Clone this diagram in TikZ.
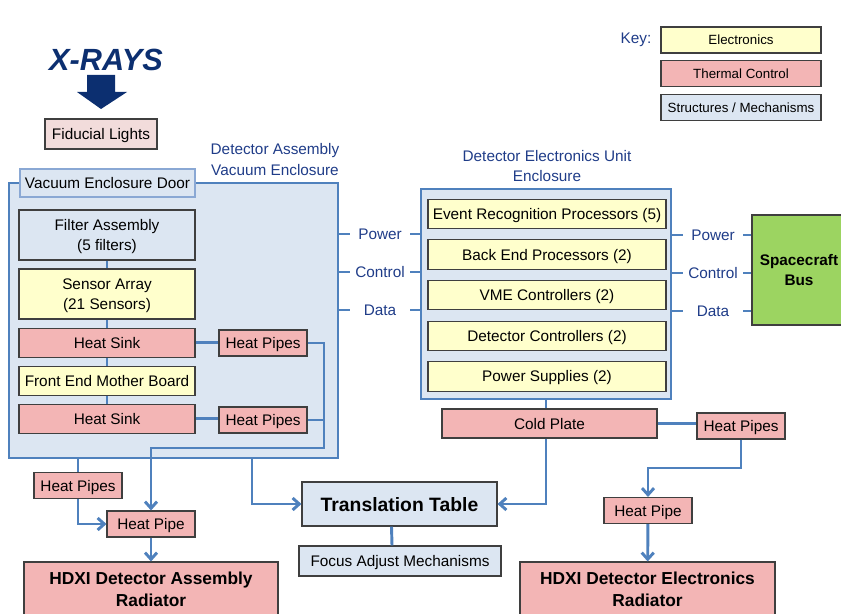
\documentclass[tikz,border=0pt]{standalone}
\usepackage{fontspec}
\setmainfont{Liberation Sans}
\usetikzlibrary{arrows.meta}

\definecolor{boxline}{HTML}{3F3F3F}
\definecolor{elecfill}{HTML}{FFFFCC}
\definecolor{thermfill}{HTML}{F3B5B5}
\definecolor{structfill}{HTML}{DCE6F2}
\definecolor{fidfill}{HTML}{F2DCDB}
\definecolor{pipeblue}{HTML}{4F81BD}
\definecolor{doorline}{HTML}{8AA8D4}
\definecolor{labelblue}{HTML}{1F3C88}
\definecolor{navy}{HTML}{0C2F70}
\definecolor{busgreen}{HTML}{9CD461}

\tikzstyle{electronics} = [rectangle, draw=boxline, line width=0.8pt, fill=elecfill, text centered, text depth=0pt, minimum height=22pt]
\tikzstyle{thermal} = [rectangle, draw=boxline, line width=0.8pt, fill=thermfill, text centered, text depth=0pt, minimum width=66pt, minimum height=19.5pt]
\tikzstyle{structure} = [rectangle, draw=boxline, line width=0.8pt, fill=structfill, text centered, text depth=0pt, minimum height=22.5pt]
\tikzstyle{enclosure} = [rectangle, draw=pipeblue, line width=2.2pt, fill=structfill]
\tikzstyle{busword} = [text=labelblue, text depth=0pt, minimum width=45pt]
\tikzstyle{pipe} = [draw=pipeblue, line width=2.2pt]
\tikzstyle{arrow} = [pipe, -{Straight Barb[length=5pt,width=9pt]}]

\begin{document}
\begin{tikzpicture}[x=0.75pt, y=-0.75pt, inner sep=0pt, font=\fontsize{11.5}{15.5}\selectfont]
\clip (0,0) rectangle (841,613);

\node[text=navy, font=\fontsize{23}{26}\selectfont\bfseries\itshape] (xrays) at (106,60) {X-RAYS};
\fill[navy] (87,75) -- (115,75) -- (115,92) -- (127,92) -- (101,109) -- (77,92) -- (87,92) -- cycle;
\node[rectangle, draw=boxline, line width=0.8pt, fill=fidfill, text depth=0pt, minimum width=84pt, minimum height=22.5pt] (fid) at (101,134) {Fiducial Lights};

% detector assembly
\node[enclosure, minimum width=246.75pt, minimum height=206.25pt] (dae) at (173.5,320.5) {};
\node[text=labelblue, align=center] (daetitle) at (275,159.5) {Detector Assembly\\Vacuum Enclosure};
\node[rectangle, draw=doorline, line width=0.8pt, fill=structfill, text depth=0pt, minimum width=131.25pt, minimum height=21pt] (door) at (107.5,183) {Vacuum Enclosure Door};

\node[structure, minimum width=132pt, minimum height=37.5pt, align=center] (filter) at (107,235) {Filter Assembly\\(5 filters)};
\node[electronics, minimum width=132pt, minimum height=37.5pt, align=center, node distance=44.25pt, below of=filter] (sensor) {Sensor Array\\(21 Sensors)};
\node[thermal, minimum width=132pt, minimum height=21.75pt, node distance=36.4pt, below of=sensor] (sinkA) {Heat Sink};
\node[electronics, minimum width=132pt, minimum height=21.75pt, node distance=28.5pt, below of=sinkA] (board) {Front End Mother Board};
\node[thermal, minimum width=132pt, minimum height=21.75pt, node distance=28.5pt, below of=board] (sinkB) {Heat Sink};

\node[thermal] (pipeA) at (263,343) {Heat Pipes};
\node[thermal] (pipeB) at (263,420) {Heat Pipes};
\node[thermal] (pipeC) at (78,485.5) {Heat Pipes};
\node[thermal] (pipeD) at (151,524) {Heat Pipe};
\node[thermal, minimum width=190.5pt, minimum height=40.5pt, align=center, font=\fontsize{13}{16.5}\selectfont\bfseries] (radA) at (151,589) {HDXI Detector Assembly\\Radiator};

\node[structure, minimum width=146.25pt, minimum height=33pt, font=\fontsize{14.5}{17}\selectfont\bfseries] (table) at (399.5,504) {Translation Table};
\node[structure, minimum width=151.5pt, minimum height=22.5pt] (focus) at (400,561) {Focus Adjust Mechanisms};

% electronics unit
\node[enclosure, minimum width=187.5pt, minimum height=157.5pt] (deu) at (546,294) {};
\node[text=labelblue, align=center] (deutitle) at (547,166) {Detector Electronics Unit\\Enclosure};
\node[electronics, minimum width=178.5pt] (erp) at (547,214) {Event Recognition Processors (5)};
\node[electronics, minimum width=178.5pt, node distance=30.45pt, below of=erp] (bep) {Back End Processors (2)};
\node[electronics, minimum width=178.5pt, node distance=30.45pt, below of=bep] (vme) {VME Controllers (2)};
\node[electronics, minimum width=178.5pt, node distance=30.45pt, below of=vme] (dcon) {Detector Controllers (2)};
\node[electronics, minimum width=178.5pt, node distance=30.45pt, below of=dcon] (psu) {Power Supplies (2)};

\node[thermal, minimum width=161.25pt, minimum height=21.75pt] (cold) at (549.5,423.5) {Cold Plate};
\node[thermal] (pipeE) at (741,426) {Heat Pipes};
\node[thermal] (pipeF) at (648,510.5) {Heat Pipe};
\node[thermal, minimum width=191.25pt, minimum height=40.5pt, align=center, font=\fontsize{13}{16.5}\selectfont\bfseries] (radB) at (647.5,589) {HDXI Detector Electronics\\Radiator};

\node[rectangle, draw=boxline, line width=0.8pt, fill=busgreen, minimum width=70.5pt, minimum height=82.5pt, align=center, font=\fontsize{11.5}{15}\selectfont\bfseries] (bus) at (799,270) {Spacecraft\\Bus};

% key
\node[text=labelblue] (key) at (636,40) {Key:};
\node[electronics, minimum width=120pt, minimum height=19.5pt, font=\fontsize{10}{12}\selectfont] (keyA) at (741,40) {Electronics};
\node[thermal, minimum width=120pt, minimum height=19.5pt, font=\fontsize{10}{12}\selectfont] (keyB) at (741,73.5) {Thermal Control};
\node[structure, minimum width=120pt, minimum height=19.5pt, font=\fontsize{10}{12}\selectfont] (keyC) at (741,107.5) {Structures / Mechanisms};

% power, control and data lines
\node[busword] (powerL) at (380,234) {Power};
\node[busword] (controlL) at (380,272) {Control};
\node[busword] (dataL) at (380,310) {Data};
\node[busword] (powerR) at (713,235) {Power};
\node[busword] (controlR) at (713,273) {Control};
\node[busword] (dataR) at (713,311) {Data};
\foreach \w in {powerL,controlL,dataL} {
  \draw[pipe] (\w.west -| dae.east) -- (\w.west);
  \draw[pipe] (\w.east) -- (\w.east -| deu.west);
}
\foreach \w in {powerR,controlR,dataR} {
  \draw[pipe] (\w.west -| deu.east) -- (\w.west);
  \draw[pipe] (\w.east) -- (\w.east -| bus.west);
}

% heat paths
\foreach \a/\b in {filter/sensor,sensor/sinkA,sinkA/board,board/sinkB}
  \draw[pipe] (\a) -- (\b);
\draw[pipe] (sinkA.east) -- (sinkA.east -| pipeA.west);
\draw[pipe] (sinkB.east) -- (sinkB.east -| pipeB.west);
\coordinate (loopA) at (324,448);
\draw[arrow] (pipeA.east) -| (loopA) -| (pipeD.north);
\draw[pipe] (pipeB.east) -- (pipeB.east -| loopA);
\draw[pipe] (pipeC.north |- dae.south) -- (pipeC.north);
\draw[arrow] (pipeC.south) |- (pipeD.west);
\draw[arrow] (pipeD) -- (radA);
\coordinate (tableFeed) at (252,458);
\draw[arrow] (tableFeed) |- (table.west);
\draw[pipe] ([xshift=-6pt]table.south) -- ([xshift=-6pt]focus.north);
\draw[pipe] (deu.south) -- (deu.south |- cold.north);
\draw[arrow] (cold.south -| deu.south) |- (table.east);
\draw[pipe] (cold.east) -- (cold.east -| pipeE.west);
\coordinate (bendE) at (741,468);
\draw[arrow] (pipeE.south) -- (bendE) -| (pipeF.north);
\draw[arrow] (pipeF) -- (radB);

\end{tikzpicture}
\end{document}
